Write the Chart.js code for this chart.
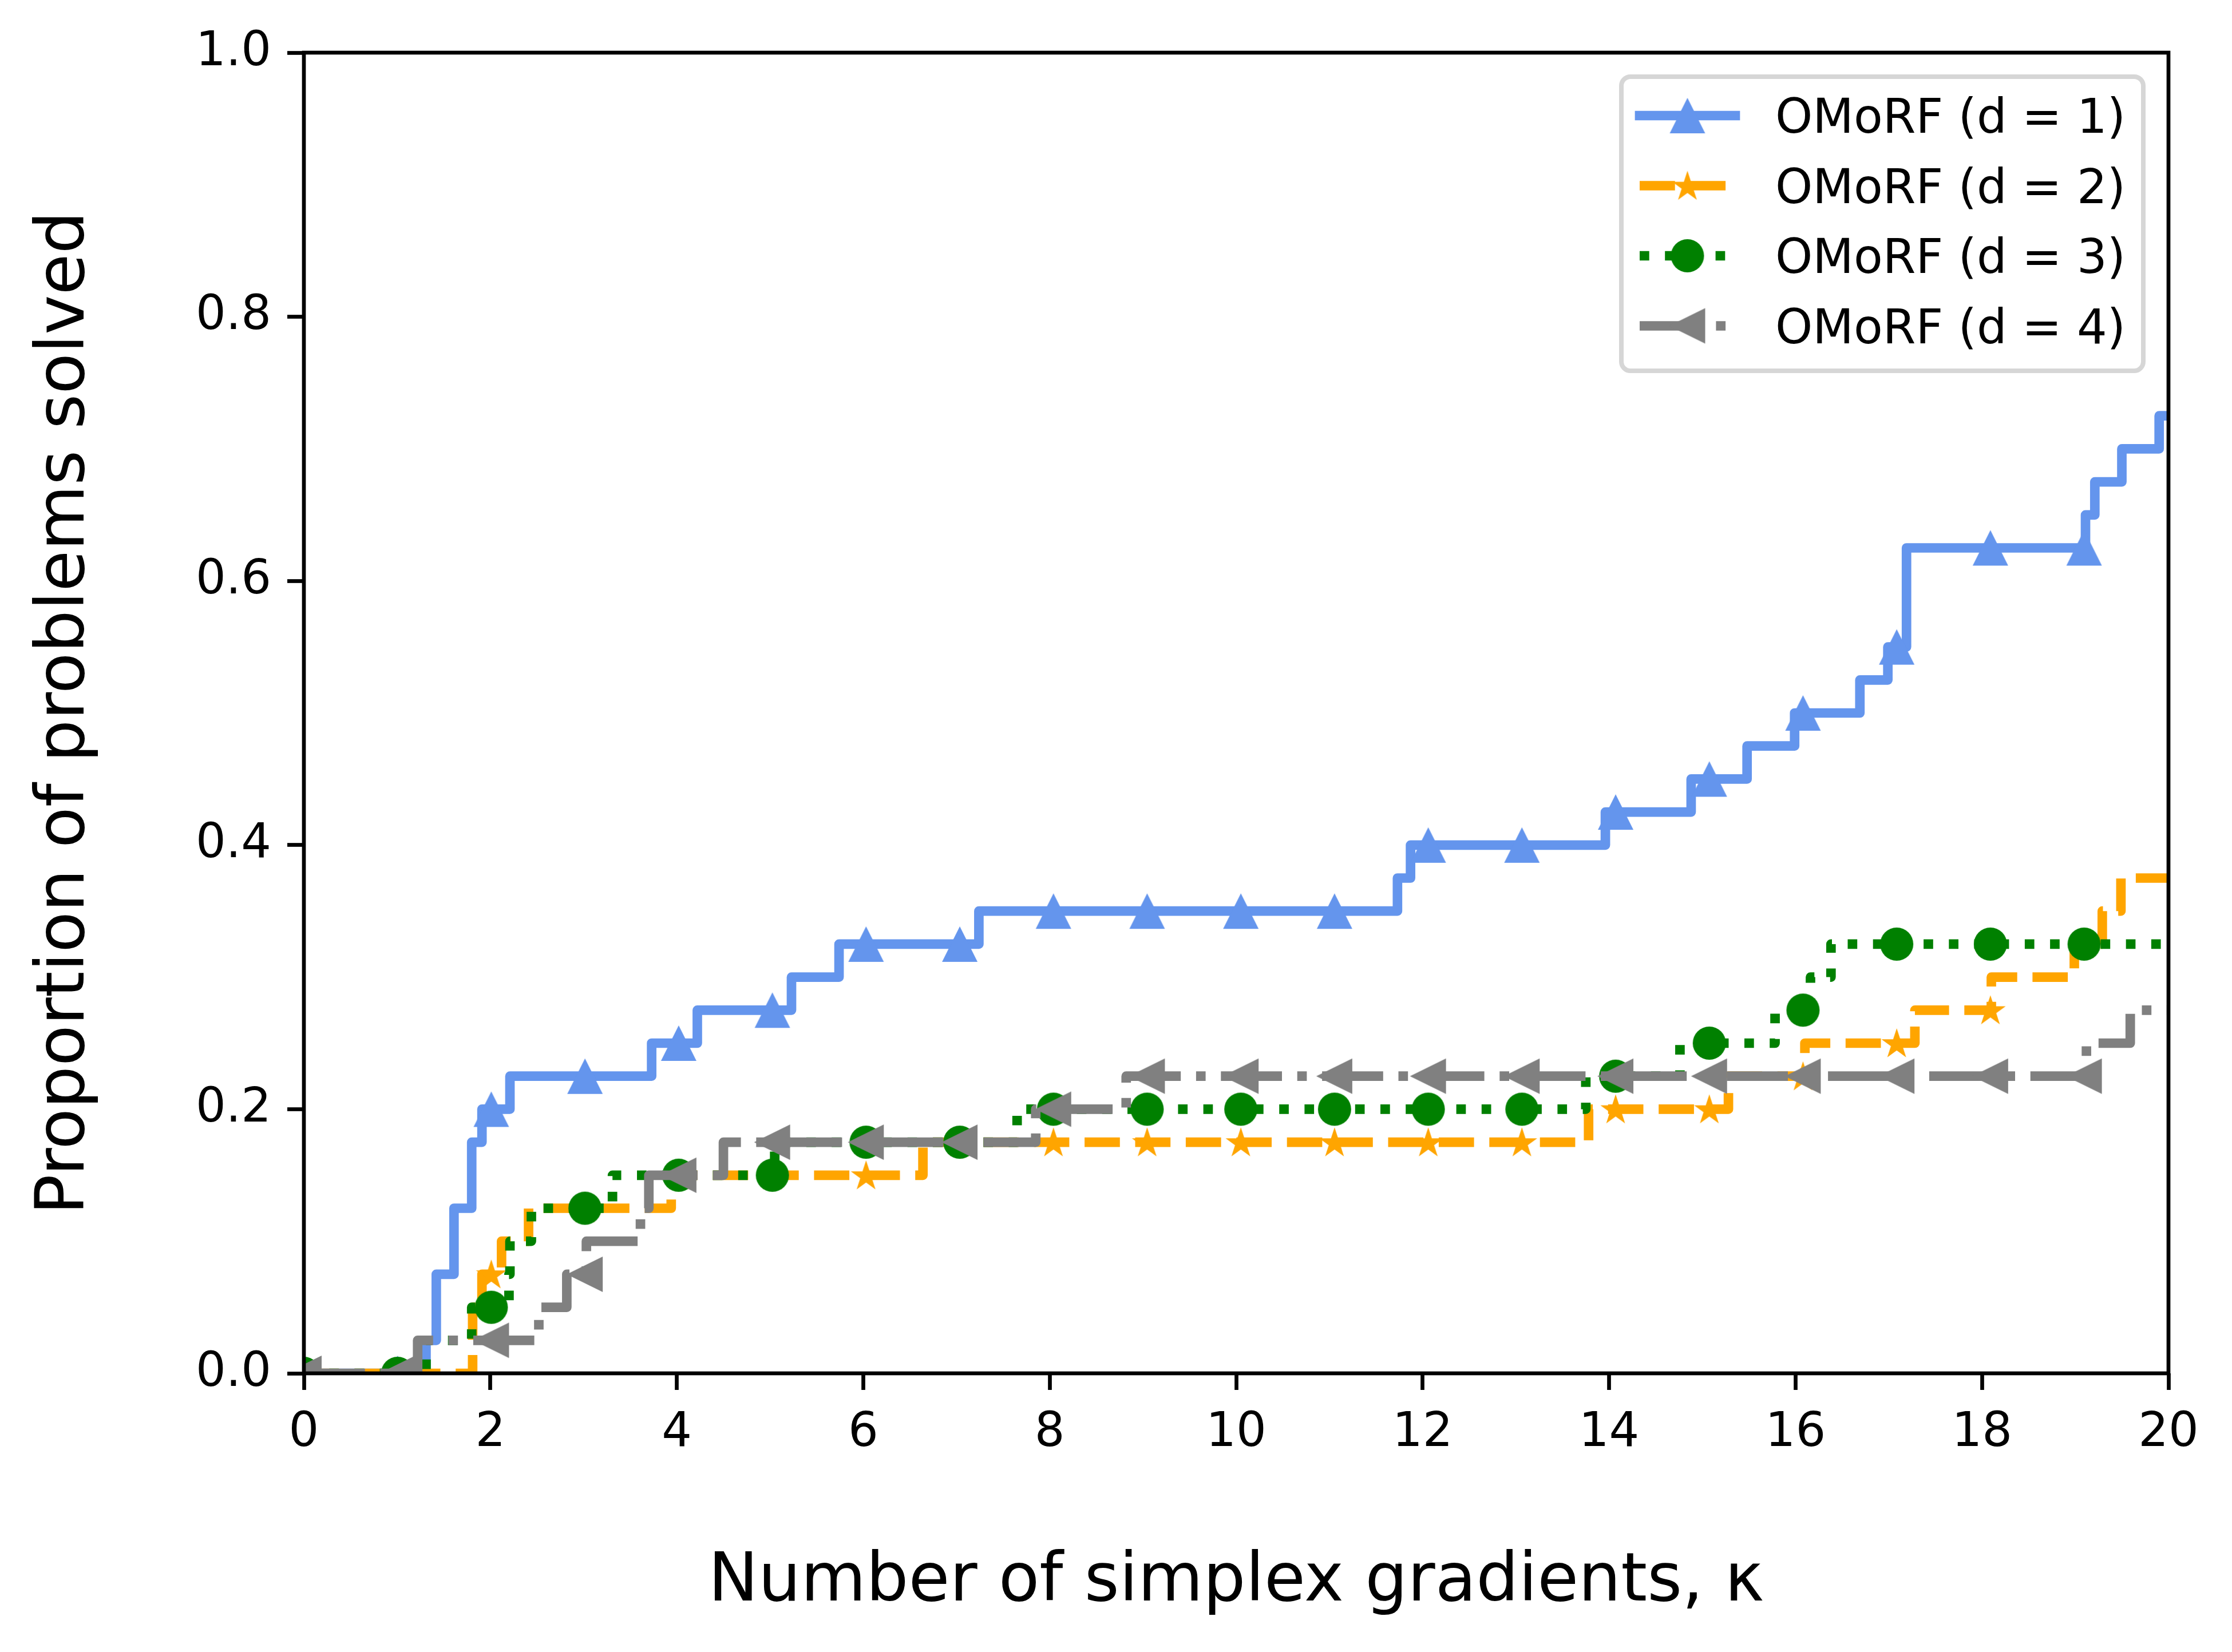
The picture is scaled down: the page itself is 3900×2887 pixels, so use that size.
<!DOCTYPE html>
<html>
<head>
<meta charset="utf-8">
<script src="https://cdn.jsdelivr.net/npm/chart.js@4.4.0/dist/chart.umd.min.js"></script>
<style>
  html, body { margin: 0; padding: 0; background: #fff; }
  canvas { display: block; }
</style>
</head>
<body>
<canvas id="profileChart" width="3900" height="2887" style="width:3900px;height:2887px"></canvas>
<script>
// step points: value jumps to y[i] at x[i]
const d1X = [0, 1.31, 1.42, 1.61, 1.8, 1.91, 2.21, 3.73, 4.22, 5.23, 5.74, 7.24, 11.73, 11.87, 13.96, 14.88, 15.48, 15.99, 16.69, 16.99, 17.19, 19.11, 19.21, 19.5, 19.9, 20];
const d1Y = [0, 0.025, 0.075, 0.125, 0.175, 0.2, 0.225, 0.25, 0.275, 0.3, 0.325, 0.35, 0.375, 0.4, 0.425, 0.45, 0.475, 0.5, 0.525, 0.55, 0.625, 0.65, 0.675, 0.7, 0.725, 0.725];

const d2X = [0, 1.81, 1.91, 2.12, 2.41, 3.94, 6.64, 13.78, 15.28, 16.1, 17.28, 18.1, 18.99, 19.29, 19.49, 20];
const d2Y = [0, 0.05, 0.075, 0.1, 0.125, 0.15, 0.175, 0.2, 0.225, 0.25, 0.275, 0.3, 0.325, 0.35, 0.375, 0.375];

const d3X = [0, 1.31, 1.8, 2.2, 2.21, 2.44, 3.31, 5.05, 7.65, 13.75, 14.76, 15.78, 16.16, 16.38, 20];
const d3Y = [0, 0.025, 0.05, 0.075, 0.1, 0.125, 0.15, 0.175, 0.2, 0.225, 0.25, 0.275, 0.3, 0.325, 0.325];

const d4X = [0, 1.22, 2.52, 2.82, 3.03, 3.61, 3.7, 4.5, 7.85, 8.82, 19.12, 19.59, 20];
const d4Y = [0, 0.025, 0.05, 0.075, 0.1, 0.125, 0.15, 0.175, 0.2, 0.225, 0.25, 0.275, 0.275];

// markers sit on the curves every tenth sample of the kappa grid
const markerX = [0, 1.005, 2.01, 3.015, 4.02, 5.025, 6.03, 7.035, 8.04, 9.045, 10.05, 11.055, 12.06, 13.065, 14.07, 15.075, 16.08, 17.085, 18.09, 19.095];

const seriesLabels = ["OMoRF (d = 1)", "OMoRF (d = 2)", "OMoRF (d = 3)", "OMoRF (d = 4)"];
const xTicks = [0, 2, 4, 6, 8, 10, 12, 14, 16, 18, 20];
const yTicks = [0, 0.2, 0.4, 0.6, 0.8, 1.0];

const FONT = "'DejaVu Sans', 'Liberation Sans', sans-serif";
const LW = 16.7;

function stepValue(xs, ys, x) {
  let v = ys[0];
  for (let i = 0; i < xs.length; i++) {
    if (xs[i] <= x) v = ys[i];
  }
  return v;
}

function makeMarker(kind, color) {
  const c = document.createElement("canvas");
  c.width = 70;
  c.height = 70;
  const g = c.getContext("2d");
  const m = 35;
  g.fillStyle = color;
  g.beginPath();
  if (kind === "up") {
    g.moveTo(m, m - 31);
    g.lineTo(m + 31, m + 31);
    g.lineTo(m - 31, m + 31);
  } else if (kind === "left") {
    g.moveTo(m - 32, m);
    g.lineTo(m + 31, m - 31);
    g.lineTo(m + 31, m + 31);
  } else if (kind === "circle") {
    g.arc(m, m, 29, 0, Math.PI * 2);
  } else if (kind === "star") {
    const R = 28, r = R * 0.382;
    for (let k = 0; k < 10; k++) {
      const a = -Math.PI / 2 + k * Math.PI / 5;
      const rr = k % 2 === 0 ? R : r;
      const px = m + rr * Math.cos(a), py = m + 2 + rr * Math.sin(a);
      if (k === 0) g.moveTo(px, py); else g.lineTo(px, py);
    }
  }
  g.closePath();
  g.fill();
  return c;
}

const series = [
  { xs: d1X, ys: d1Y, color: "#6495ED", dash: [], cap: "square", marker: makeMarker("up", "#6495ED") },
  { xs: d2X, ys: d2Y, color: "#FFA500", dash: [61.7, 26.7], cap: "butt", marker: makeMarker("star", "#FFA500") },
  { xs: d3X, ys: d3Y, color: "#008000", dash: [16.7, 27.5], cap: "butt", marker: makeMarker("circle", "#008000") },
  { xs: d4X, ys: d4Y, color: "#808080", dash: [106.7, 26.7, 16.7, 26.7], cap: "butt", marker: makeMarker("left", "#808080") }
];

const datasets = [];
series.forEach((s, i) => {
  datasets.push({
    label: seriesLabels[i],
    data: s.xs.map((x, j) => ({ x: x, y: s.ys[j] })),
    borderColor: s.color,
    borderWidth: LW,
    borderDash: s.dash,
    borderCapStyle: s.cap,
    borderJoinStyle: "round",
    stepped: "before",
    pointRadius: 0,
    fill: false,
    clip: 0,
    order: (3 - i) * 2 + 1
  });
  datasets.push({
    label: seriesLabels[i] + " markers",
    data: markerX.map(x => ({ x: x, y: stepValue(s.xs, s.ys, x) })),
    showLine: false,
    pointStyle: s.marker,
    pointRadius: 30,
    pointHoverRadius: 30,
    clip: 0,
    order: (3 - i) * 2
  });
});

const framePlugin = {
  id: "frame",
  afterDatasetsDraw(chart) {
    const { ctx, chartArea: a } = chart;
    ctx.save();
    ctx.strokeStyle = "#000";
    ctx.lineWidth = 6.7;
    ctx.lineJoin = "miter";
    ctx.strokeRect(a.left, a.top, a.right - a.left, a.bottom - a.top);
    ctx.restore();
  }
};

const legendPlugin = {
  id: "sideLegend",
  afterDraw(chart) {
    const ctx = chart.ctx;
    const box = { left: 2833, top: 134, right: 3745, bottom: 648 };
    ctx.save();
    ctx.beginPath();
    ctx.roundRect(box.left, box.top, box.right - box.left, box.bottom - box.top, 16);
    ctx.fillStyle = "rgba(255,255,255,0.8)";
    ctx.fill();
    ctx.lineWidth = 8;
    ctx.strokeStyle = "rgba(204,204,204,0.8)";
    ctx.stroke();

    series.forEach((s, i) => {
      const y = 202 + i * 122.5;
      ctx.beginPath();
      ctx.setLineDash(s.dash);
      ctx.lineDashOffset = 0;
      ctx.lineCap = s.cap;
      ctx.lineWidth = LW;
      ctx.strokeStyle = s.color;
      ctx.moveTo(2865, y);
      ctx.lineTo(3032, y);
      ctx.stroke();
      ctx.setLineDash([]);
      ctx.drawImage(s.marker, 2948.5 - s.marker.width / 2, y - s.marker.height / 2);
      ctx.fillStyle = "#000";
      ctx.font = "83px " + FONT;
      ctx.textAlign = "left";
      ctx.textBaseline = "alphabetic";
      ctx.fillText(seriesLabels[i], 3102, y + 30);
    });
    ctx.restore();
  }
};

new Chart(document.getElementById("profileChart"), {
  type: "line",
  data: { datasets: datasets },
  options: {
    responsive: false,
    maintainAspectRatio: false,
    devicePixelRatio: 1,
    animation: false,
    events: [],
    layout: { padding: { top: 92, right: 111, left: 0, bottom: 0 } },
    plugins: {
      legend: { display: false },
      tooltip: { enabled: false }
    },
    scales: {
      x: {
        type: "linear",
        min: 0,
        max: 20,
        afterBuildTicks(scale) {
          scale.ticks = xTicks.map(v => ({ value: v }));
        },
        afterFit(scale) { scale.height = 487; },
        ticks: {
          color: "#000",
          font: { family: FONT, size: 83 },
          padding: 27,
          maxRotation: 0,
          minRotation: 0,
          autoSkip: false,
          callback: v => String(v)
        },
        grid: {
          drawOnChartArea: false,
          drawTicks: true,
          tickLength: 29,
          tickWidth: 6.7,
          tickColor: "#000"
        },
        border: { display: false },
        title: {
          display: true,
          text: "Number of simplex gradients, κ",
          color: "#000",
          font: { family: FONT, size: 117 },
          padding: { top: 0, bottom: 50 }
        }
      },
      y: {
        type: "linear",
        min: 0,
        max: 1,
        afterBuildTicks(scale) {
          scale.ticks = yTicks.map(v => ({ value: v }));
        },
        afterFit(scale) { scale.width = 531; },
        ticks: {
          color: "#000",
          font: { family: FONT, size: 83 },
          padding: 28,
          autoSkip: false,
          callback: v => v.toFixed(1)
        },
        grid: {
          drawOnChartArea: false,
          drawTicks: true,
          tickLength: 29,
          tickWidth: 6.7,
          tickColor: "#000"
        },
        border: { display: false },
        title: {
          display: true,
          text: "Proportion of problems solved",
          color: "#000",
          font: { family: FONT, size: 117 },
          padding: { top: 45, bottom: 0 }
        }
      }
    }
  },
  plugins: [framePlugin, legendPlugin]
});
</script>
</body>
</html>
